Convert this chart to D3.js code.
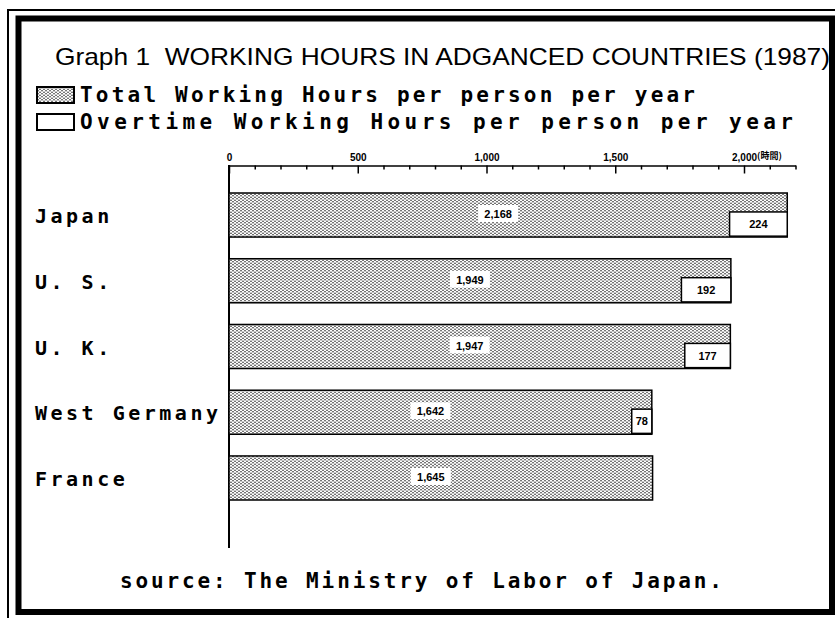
<!DOCTYPE html>
<html>
<head>
<meta charset="utf-8">
<script src="https://cdn.jsdelivr.net/npm/d3@7"></script>
<style>
body{margin:0;background:#fff}
</style>
</head>
<body>
<svg id="chart"></svg>
<script>
// data
var countries = ["Japan","U. S.","U. K.","West Germany","France"];
var totalHours = [2168,1949,1947,1642,1645];
var overtimeHours = [224,192,177,78,0];
var tickValues = [0,500,1000,1500,2000];
var legendLabels = ["Total Working Hours per person per year","Overtime Working Hours per person per year"];
var titleText = "Graph 1  WORKING HOURS IN ADGANCED COUNTRIES (1987)";
var sourceText = "source: The Ministry of Labor of Japan.";
var unitText = "(時間)";

var screen = {width:835,height:618};
var mono = "'DejaVu Sans Mono', monospace";
var sans = "'Liberation Sans', Arial, sans-serif";

var svg = d3.select("#chart")
            .attr("width",screen.width)
            .attr("height",screen.height);

// dotted fill like the old print
var pat = svg.append("defs").append("pattern")
             .attr("id","dots")
             .attr("patternUnits","userSpaceOnUse")
             .attr("width",4)
             .attr("height",3);
pat.append("rect").attr("width",4).attr("height",3).attr("fill","#fff");
pat.append("circle").attr("cx",1).attr("cy",0.75).attr("r",0.75).attr("fill","#111");
pat.append("circle").attr("cx",3).attr("cy",2.25).attr("r",0.75).attr("fill","#111");

// frame
var frame = svg.append("g").attr("stroke","#000").attr("fill","none");
frame.append("path").attr("d","M8,618 V10 H835").attr("stroke-width",2);
frame.append("path").attr("d","M18.5,612 V18.5 H832 V612 Z").attr("stroke-width",6);

// title
svg.append("text")
   .attr("x",55).attr("y",65)
   .attr("font-family",sans)
   .attr("font-size",24)
   .attr("textLength",775)
   .attr("lengthAdjust","spacingAndGlyphs")
   .style("white-space","pre")
   .text(titleText);

// legend
var legend = svg.append("g").selectAll("g")
    .data(legendLabels)
    .enter()
    .append("g")
    .attr("transform",function(d,i){return "translate(37,"+(87+i*27)+")";});
legend.append("rect")
      .attr("width",37).attr("height",16)
      .attr("fill",function(d,i){return i==0 ? "url(#dots)" : "#fff";})
      .attr("stroke","#000").attr("stroke-width",2);
legend.append("text")
      .attr("x",43).attr("y",15)
      .attr("font-family",mono).attr("font-weight","bold").attr("font-size",21)
      .attr("textLength",function(d,i){return i==0 ? 615 : 713;})
      .attr("lengthAdjust","spacing")
      .text(function(d){return d;});

var xScale = d3.scaleLinear()
               .domain([0,2200])
               .range([229,229+2200*0.2575]);

var yScale = d3.scaleBand()
               .domain(countries)
               .range([193,500])
               .paddingInner(0.33);

// axis on top, ticks hanging down
var xAxis = d3.axisTop(xScale)
              .tickValues(d3.range(0,2201,100))
              .tickSizeInner(-4)
              .tickSizeOuter(0)
              .tickPadding(5)
              .tickFormat(function(d){return tickValues.indexOf(d)>=0 ? d3.format(",")(d) : "";});

var axisG = svg.append("g")
   .attr("transform","translate(0,165.5)")
   .call(xAxis);
axisG.select(".domain").attr("stroke-width",1.5);
axisG.selectAll(".tick line").attr("stroke-width",1.5)
   .attr("y2",function(d){return tickValues.indexOf(d)>=0 ? 8 : 4;});
axisG.selectAll(".tick text")
   .attr("font-family",sans)
   .attr("font-weight","bold")
   .attr("font-size",10);

svg.append("text")
   .attr("x",757).attr("y",159)
   .attr("font-family","'Noto Sans CJK JP', sans-serif")
   .attr("font-weight","bold")
   .attr("font-size",9)
   .text(unitText);

// vertical base line
svg.append("line")
   .attr("x1",xScale(0)).attr("x2",xScale(0))
   .attr("y1",165).attr("y2",548)
   .attr("stroke","#000").attr("stroke-width",2);

var rows = svg.append("g").selectAll("g")
    .data(countries)
    .enter()
    .append("g");

// total bars
rows.append("rect")
    .attr("x",xScale(0))
    .attr("y",function(d){return yScale(d);})
    .attr("width",function(d,i){return xScale(totalHours[i])-xScale(0);})
    .attr("height",yScale.bandwidth())
    .attr("fill","url(#dots)")
    .attr("stroke","#000")
    .attr("stroke-width",1.5);

// overtime boxes at the right end
rows.filter(function(d,i){return overtimeHours[i]>0;})
    .append("rect")
    .attr("x",function(d){var i=countries.indexOf(d);return xScale(totalHours[i]-overtimeHours[i]);})
    .attr("y",function(d){return yScale(d)+yScale.bandwidth()*0.43;})
    .attr("width",function(d){var i=countries.indexOf(d);return xScale(overtimeHours[i])-xScale(0);})
    .attr("height",yScale.bandwidth()*0.55)
    .attr("fill","#fff")
    .attr("stroke","#000")
    .attr("stroke-width",1.5);

rows.filter(function(d,i){return overtimeHours[i]>0;})
    .append("text")
    .attr("x",function(d){var i=countries.indexOf(d);return xScale(totalHours[i]-overtimeHours[i]/2);})
    .attr("y",function(d){return yScale(d)+yScale.bandwidth()*0.71+4;})
    .attr("text-anchor","middle")
    .attr("font-family",sans)
    .attr("font-weight","bold")
    .attr("font-size",11)
    .text(function(d){return overtimeHours[countries.indexOf(d)];});

// value labels on a white patch
var valG = rows.append("g")
    .attr("transform",function(d,i){
      return "translate("+(xScale(totalHours[i]/2)-10)+","+(yScale(d)+yScale.bandwidth()/2-1)+")";
    });
valG.append("rect")
    .attr("x",-20).attr("y",-9).attr("width",40).attr("height",17)
    .attr("fill","#fff");
valG.append("text")
    .attr("y",4)
    .attr("text-anchor","middle")
    .attr("font-family",sans)
    .attr("font-weight","bold")
    .attr("font-size",11)
    .text(function(d,i){return d3.format(",")(totalHours[i]);});

// country names
rows.append("text")
    .attr("x",35)
    .attr("y",function(d){return yScale(d)+yScale.bandwidth()/2+8;})
    .attr("font-family",mono)
    .attr("font-weight","bold")
    .attr("font-size",20)
    .attr("letter-spacing",3.5)
    .style("white-space","pre")
    .text(function(d){return d;});

// source line
svg.append("text")
   .attr("x",120).attr("y",588)
   .attr("font-family",mono)
   .attr("font-weight","bold")
   .attr("font-size",21)
   .attr("textLength",602)
   .attr("lengthAdjust","spacing")
   .text(sourceText);
</script>
</body>
</html>
